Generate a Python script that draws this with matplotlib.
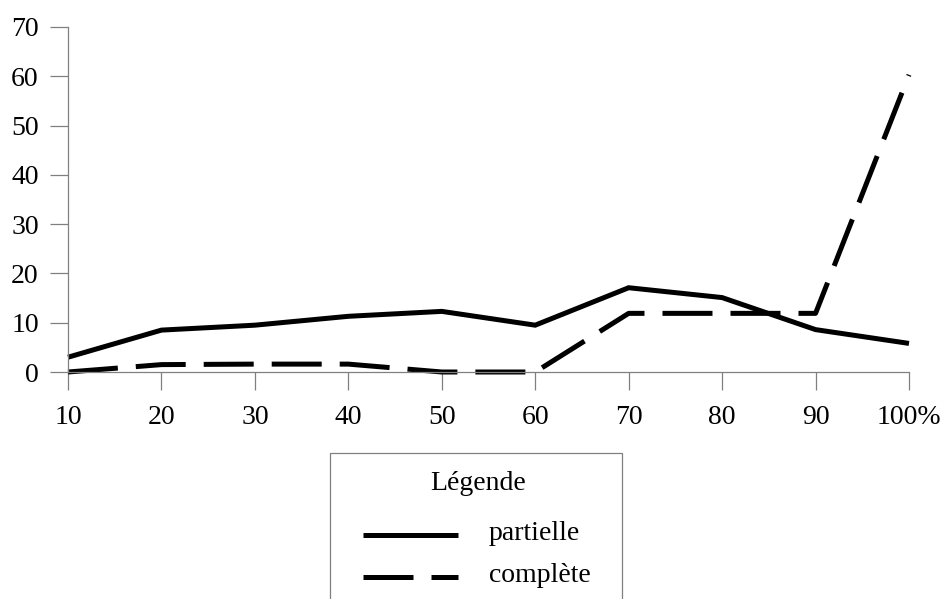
import matplotlib
matplotlib.use("Agg")
import matplotlib.pyplot as plt
from matplotlib.lines import Line2D
from matplotlib.patches import Rectangle

categories = ["10", "20", "30", "40", "50", "60", "70", "80", "90", "100%"]
partielle = [3.0, 8.5, 9.5, 11.3, 12.3, 9.5, 17.1, 15.1, 8.6, 5.8]
complete = [0.0, 1.5, 1.6, 1.6, 0.0, 0.0, 11.9, 11.9, 11.9, 60.3]
legend_title = "Légende"
labels = ["partielle", "complète"]

plt.rcParams['font.family'] = ['Liberation Serif', 'DejaVu Serif']

W, H = 945, 599
fig = plt.figure(figsize=(W / 100, H / 100), dpi=100)
ax = fig.add_axes([68 / W, 1 - 372 / H, (909 - 68) / W, (372 - 27) / H])

x = list(range(len(categories)))
lw = 3.6
ax.plot(x, partielle, color="black", lw=lw, solid_capstyle="butt", solid_joinstyle="miter", clip_on=False)
ax.plot(x, complete, color="black", lw=lw, dashes=(10, 3.6), dash_capstyle="butt", clip_on=False)

ax.set_xlim(0, len(categories) - 1)
ax.set_ylim(0, 70)
ax.set_xticks(x)
ax.set_xticklabels(categories)
ax.set_yticks(range(0, 71, 10))
for s in ["top", "right"]:
    ax.spines[s].set_visible(False)
for s in ["left", "bottom"]:
    ax.spines[s].set_color("#808080")
    ax.spines[s].set_linewidth(0.9)
ax.tick_params(axis="both", direction="out", length=13, width=0.9, color="#808080",
               labelsize=20, labelcolor="black")
ax.tick_params(axis="y", pad=8)
ax.tick_params(axis="x", pad=11)

# Legend box (extends beyond figure bottom)
fig.add_artist(Rectangle((330 / W, -0.05), (622 - 330) / W, (0.05 + 1 - 453 / H),
                         transform=fig.transFigure, fill=False, edgecolor="#808080",
                         linewidth=0.9, clip_on=False))
fig.text(478 / W, 1 - 483 / H, legend_title, ha="center", va="center", fontsize=20)
ys = [535, 577]
styles = [dict(), dict(dashes=(10, 3.6), dash_capstyle="butt")]
for yy, lab, st in zip(ys, labels, styles):
    fig.add_artist(Line2D([363 / W, 458 / W], [1 - yy / H, 1 - yy / H], transform=fig.transFigure,
                          color="black", lw=lw, solid_capstyle="butt", **st))
    fig.text(489 / W, 1 - (yy - 2) / H, lab, ha="left", va="center", fontsize=20)

fig.savefig("out.png", dpi=100)
